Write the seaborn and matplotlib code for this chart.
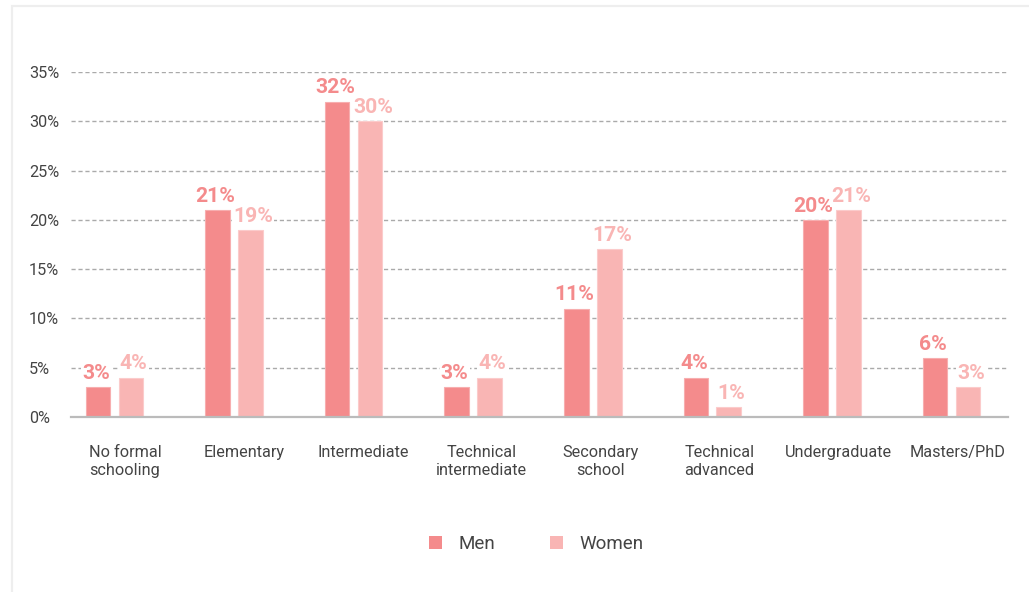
import matplotlib
matplotlib.use("Agg")
import matplotlib.pyplot as plt
from matplotlib.patches import Rectangle, Patch
from matplotlib.colors import to_rgb
import seaborn as sns
import pandas as pd

# Share of people by highest education level reached
levels = ["No formal\nschooling", "Elementary", "Intermediate", "Technical\nintermediate",
          "Secondary\nschool", "Technical\nadvanced", "Undergraduate", "Masters/PhD"]
men = [3, 21, 32, 3, 11, 4, 20, 6]
women = [4, 19, 30, 4, 17, 1, 21, 3]
groups = ["Men", "Women"]
y_ticks = [0, 5, 10, 15, 20, 25, 30, 35]

colors = {"Men": "#f48b8c", "Women": "#f9b5b4"}
text_color = "#444444"

sns.set_theme(style="white")
plt.rcParams["font.family"] = ["Roboto", "DejaVu Sans"]

df = pd.DataFrame({
    "level": levels * 2,
    "group": ["Men"] * len(levels) + ["Women"] * len(levels),
    "share": men + women,
})

W, H = 1029, 592
fig = plt.figure(figsize=(W / 100, H / 100), dpi=100)
ax = fig.add_axes([71 / W, 1 - 417 / H, 937 / W, 345 / H])

sns.barplot(data=df, x="level", y="share", hue="group", order=levels,
            hue_order=groups, palette=colors, saturation=1, width=0.55,
            gap=0.25, legend=False, ax=ax)

# thin lighter outline on every bar
for patch in ax.patches:
    r, g, b = to_rgb(patch.get_facecolor())
    patch.set_edgecolor((r + (1 - r) * 0.3, g + (1 - g) * 0.3, b + (1 - b) * 0.3))
    patch.set_linewidth(0.8)
    patch.set_zorder(2)

# value labels above the bars, nudged apart, with a white backing over the grid
nudge = {"Men": -1.5, "Women": 2.0}
for container, grp in zip(ax.containers, groups):
    for bar, val in zip(container, container.datavalues):
        ax.annotate(f"{val:.0f}%", (bar.get_x() + bar.get_width() / 2, bar.get_height()),
                    xytext=(nudge[grp], 3), textcoords="offset points",
                    ha="center", va="bottom", fontsize=15.2, fontweight="bold",
                    color=colors[grp], zorder=1.5,
                    bbox=dict(boxstyle="square,pad=0.05", fc="white", ec="none"))

ax.set_xlim(-0.363, 7.472)
ax.set_ylim(0, 35)

ax.set_xticks([i * 0.994 + 0.089 for i in range(len(levels))], labels=levels)
ax.set_yticks(y_ticks, labels=[f"{t}%" for t in y_ticks])
ax.tick_params(axis="x", length=0, pad=20, labelsize=11.7, labelcolor=text_color)
ax.tick_params(axis="y", length=0, pad=30.2, labelsize=11.7, labelcolor=text_color)
for lbl in ax.get_yticklabels():
    lbl.set_horizontalalignment("left")
for lbl in ax.get_xticklabels():
    lbl.set_linespacing(1.25)

ax.set_xlabel("")
ax.set_ylabel("")
ax.yaxis.grid(True, linestyle=(0, (3, 2)), color="#aaaaaa", linewidth=1, zorder=0.5)
ax.set_axisbelow(True)
for side in ["top", "right", "left"]:
    ax.spines[side].set_visible(False)
ax.spines["bottom"].set_color("#bbbbbb")
ax.spines["bottom"].set_linewidth(1.6)
ax.spines["bottom"].set_zorder(3)

handles = [Patch(facecolor=colors[g], edgecolor="none") for g in groups]
leg = fig.legend(handles, groups, loc="center", bbox_to_anchor=(536 / W, 1 - 544 / H),
                 ncol=2, frameon=False, fontsize=13.5, handlelength=0.72,
                 handleheight=0.72, handletextpad=0.85, columnspacing=2.9)
for t in leg.get_texts():
    t.set_color(text_color)

# light panel frame on the left and top edges
fig.add_artist(Rectangle((12 / W, -0.1), 1.2, 1.1 - 6 / H, transform=fig.transFigure,
                         fill=False, edgecolor="#eeeeee", linewidth=1.6))

fig.savefig("out.png", dpi=100)
